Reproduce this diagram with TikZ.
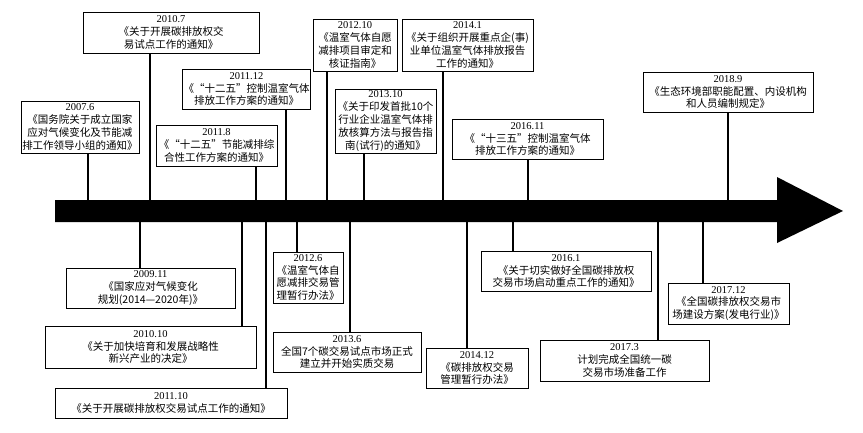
\documentclass[tikz,border=0pt]{standalone}
\usepackage{fontspec}
\setmainfont{Liberation Serif}
\newfontfamily\cjk{Noto Sans CJK SC}
\begin{document}
\begin{tikzpicture}[x=1pt,y=-1pt,
  box/.style={draw, line width=0.8pt, inner sep=1pt, align=center,
    font=\fontsize{10.5}{12.8}\selectfont\cjk},
  conn/.style={line width=1.6pt},
  thinconn/.style={line width=1.1pt}]
\useasboundingbox[fill=white] (0,0) rectangle (863,432);
\newcommand{\dt}[1]{{\rmfamily #1}}
% top boxes
\node[box, minimum width=118, minimum height=52] (n1) at (80,127) {\dt{2007.6}\\《国务院关于成立国家\\应对气候变化及节能减\\排工作领导小组的通知》};
\node[box, minimum width=176, minimum height=41] (n2) at (171,32.5) {\dt{2010.7}\\《关于开展碳排放权交\\易试点工作的通知》};
\node[box, minimum width=121, minimum height=41] (n3) at (216.5,145.5) {\dt{2011.8}\\《“十二五”节能减排综\\合性工作方案的通知》};
\node[box, minimum width=121, minimum height=40] (n4) at (246.5,89) {\dt{2011.12}\\《“十二五”控制温室气体\\排放工作方案的通知》};
\node[box, minimum width=84, minimum height=52] (n5) at (355,45) {\dt{2012.10}\\《温室气体自愿\\减排项目审定和\\核证指南》};
\node[box, minimum width=101, minimum height=64] (n6) at (385.5,121) {\dt{2013.10}\\《关于印发首批10个\\行业企业温室气体排\\放核算方法与报告指\\南(试行)的通知》};
\node[box, minimum width=131, minimum height=52] (n7) at (467.5,45) {\dt{2014.1}\\《关于组织开展重点企(事)\\业单位温室气体排放报告\\工作的通知》};
\node[box, minimum width=151, minimum height=40] (n8) at (527.5,139) {\dt{2016.11}\\《“十三五”控制温室气体\\排放工作方案的通知》};
\node[box, minimum width=170, minimum height=40] (n9) at (728,92) {\dt{2018.9}\\《生态环境部职能配置、内设机构\\和人员编制规定》};
% bottom boxes
\node[box, minimum width=169, minimum height=40] (n10) at (150.5,288) {\dt{2009.11}\\《国家应对气候变化\\规划(2014—2020年)》};
\node[box, minimum width=211, minimum height=42] (n11) at (150.5,347) {\dt{2010.10}\\《关于加快培育和发展战略性\\新兴产业的决定》};
\node[box, minimum width=232, minimum height=30] (n12) at (171,403) {\dt{2011.10}\\《关于开展碳排放权交易试点工作的通知》};
\node[box, minimum width=70, minimum height=51] (n13) at (308,277.5) {\dt{2012.6}\\《温室气体自\\愿减排交易管\\理暂行办法》};
\node[box, minimum width=148, minimum height=40] (n14) at (347,352) {\dt{2013.6}\\全国7个碳交易试点市场正式\\建立并开始实质交易};
\node[box, minimum width=102, minimum height=40] (n15) at (477,368) {\dt{2014.12}\\《碳排放权交易\\管理暂行办法》};
\node[box, minimum width=170, minimum height=40] (n16) at (566,271) {\dt{2016.1}\\《关于切实做好全国碳排放权\\交易市场启动重点工作的通知》};
\node[box, minimum width=121, minimum height=41] (n17) at (728.5,303.5) {\dt{2017.12}\\《全国碳排放权交易市\\场建设方案(发电行业)》};
\node[box, minimum width=169, minimum height=41] (n18) at (624.5,360.5) {\dt{2017.3}\\计划完成全国统一碳\\交易市场准备工作};
% anchor points on the shaft
\coordinate (a1) at (88,205);
\coordinate (a2) at (150,205);
\coordinate (a3) at (256,205);
\coordinate (a4) at (286,205);
\coordinate (a5) at (327,205);
\coordinate (a6) at (364,205);
\coordinate (a7) at (443,205);
\coordinate (a8) at (528,205);
\coordinate (a9) at (728,205);
\coordinate (a10) at (140,217);
\coordinate (a11) at (242,217);
\coordinate (a12) at (266,217);
\coordinate (a13) at (297,217);
\coordinate (a14) at (350,217);
\coordinate (a15) at (467,217);
\coordinate (a16) at (513,217);
\coordinate (a17) at (703,217);
\coordinate (a18) at (658,217);
% connectors
\foreach \i in {1,...,8} {\draw[conn] (n\i.south -| a\i) -- (a\i);}
\draw[thinconn] (n9.south -| a9) -- (a9);
\foreach \i in {10,...,16} {\draw[conn] (a\i) -- (a\i |- n\i.north);}
\foreach \i in {17,18} {\draw[thinconn] (a\i) -- (a\i |- n\i.north);}
% timeline arrow
\fill[black] (55,200) -- (777,200) -- (777,177) -- (843,211) -- (777,243) -- (777,222) -- (55,222) -- cycle;
\end{tikzpicture}
\end{document}
